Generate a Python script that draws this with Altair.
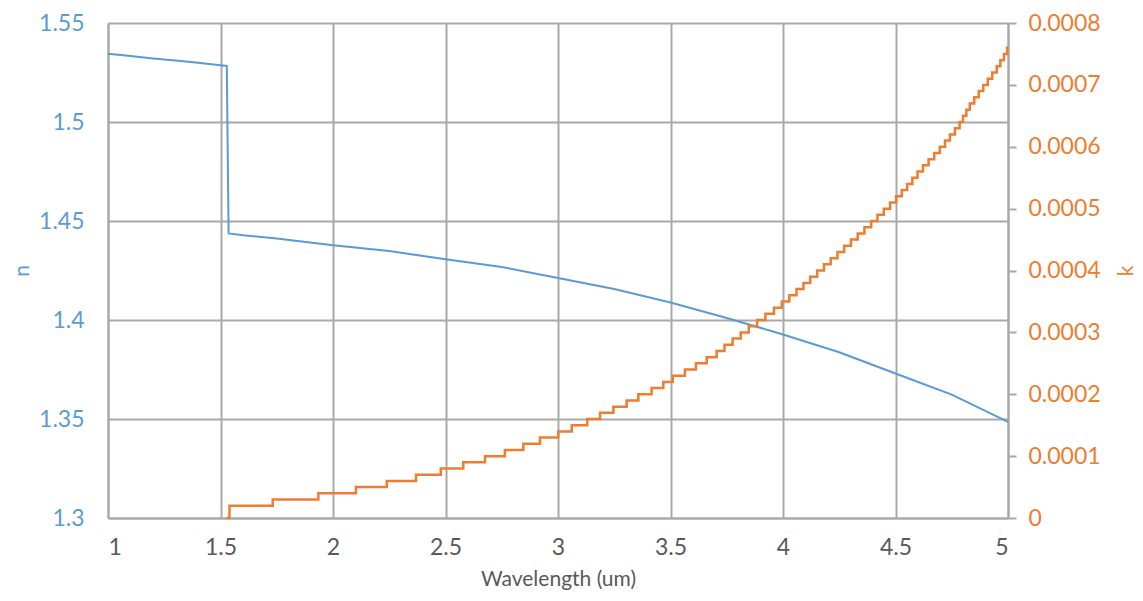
import altair as alt
import pandas as pd

# refractive index n (left axis)
n_wl = [1.0, 1.1, 1.2, 1.3, 1.4, 1.5, 1.528, 1.536, 1.6, 1.75, 2.0, 2.25, 2.5, 2.75,
        3.0, 3.25, 3.5, 3.75, 4.0, 4.25, 4.5, 4.75, 5.0]
n_val = [1.5345, 1.5333, 1.5321, 1.5310, 1.5299, 1.5287, 1.5283, 1.4437, 1.4428, 1.4412,
         1.4378, 1.4348, 1.4307, 1.4268, 1.4212, 1.4157, 1.4088, 1.4010, 1.3927, 1.3837,
         1.3730, 1.3623, 1.3485]

# extinction coefficient k (right axis): wavelength where each level starts
k_wl = [1.527, 1.54, 1.732, 1.935, 2.102, 2.239, 2.369, 2.479, 2.579, 2.676,
        2.764, 2.846, 2.920, 3.001, 3.061, 3.130, 3.187, 3.246, 3.305, 3.357,
        3.416, 3.468, 3.510, 3.564, 3.613, 3.661, 3.705, 3.740, 3.776, 3.812,
        3.848, 3.885, 3.922, 3.960, 3.995, 4.028, 4.060, 4.091, 4.121, 4.152,
        4.182, 4.212, 4.242, 4.272, 4.302, 4.332, 4.362, 4.392, 4.420, 4.448,
        4.476, 4.503, 4.528, 4.552, 4.575, 4.598, 4.622, 4.647, 4.672, 4.697,
        4.720, 4.742, 4.764, 4.785, 4.800, 4.815, 4.830, 4.850, 4.870, 4.890,
        4.910, 4.930, 4.950, 4.966, 4.982, 4.996, 5.0]
k_val = [0, 0.00002, 0.00003, 0.00004, 0.00005, 0.00006, 0.00007, 0.00008, 0.00009, 0.00010,
         0.00011, 0.00012, 0.00013, 0.00014, 0.00015, 0.00016, 0.00017, 0.00018, 0.00019, 0.00020,
         0.00021, 0.00022, 0.00023, 0.00024, 0.00025, 0.00026, 0.00027, 0.00028, 0.00029, 0.00030,
         0.00031, 0.00032, 0.00033, 0.00034, 0.00035, 0.00036, 0.00037, 0.00038, 0.00039, 0.00040,
         0.00041, 0.00042, 0.00043, 0.00044, 0.00045, 0.00046, 0.00047, 0.00048, 0.00049, 0.00050,
         0.00051, 0.00052, 0.00053, 0.00054, 0.00055, 0.00056, 0.00057, 0.00058, 0.00059, 0.00060,
         0.00061, 0.00062, 0.00063, 0.00064, 0.00065, 0.00066, 0.00067, 0.00068, 0.00069, 0.00070,
         0.00071, 0.00072, 0.00073, 0.00074, 0.00075, 0.00076, 0.00076]

x_ticks = [1, 1.5, 2, 2.5, 3, 3.5, 4, 4.5, 5]
n_ticks = [1.3, 1.35, 1.4, 1.45, 1.5, 1.55]
k_ticks = [0, 0.0001, 0.0002, 0.0003, 0.0004, 0.0005, 0.0006, 0.0007, 0.0008]

BLUE = "#5B9BD5"
ORANGE = "#ED7D31"
GRID = "#A9A9A9"
TEXT = "#595959"
FONT = "Lato"
LFS = 23
TFS = 21
H = 495

df_n = pd.DataFrame({"wl": n_wl, "n": n_val})
df_k = pd.DataFrame({"wl": k_wl, "k": k_val})

x_enc = alt.X(
    "wl:Q",
    scale=alt.Scale(domain=[1, 5], nice=False, zero=False),
    axis=alt.Axis(values=x_ticks, format="~g", title="Wavelength (um)",
                  grid=True, gridColor=GRID, gridWidth=2,
                  domain=True, domainColor=GRID, domainWidth=2,
                  ticks=False, labelPadding=18, labelColor=TEXT,
                  labelFont=FONT, labelFontSize=LFS, titleFont=FONT,
                  titleFontSize=TFS, titleFontWeight="normal", titleColor=TEXT,
                  titlePadding=9),
)

line_n = alt.Chart(df_n).mark_line(color=BLUE, strokeWidth=2).encode(
    x=x_enc,
    y=alt.Y("n:Q",
            scale=alt.Scale(domain=[1.3, 1.55], nice=False, zero=False),
            axis=alt.Axis(orient="left", values=n_ticks, format="~g", title="n",
                          grid=True, gridColor=GRID, gridWidth=2,
                          domain=True, domainColor=GRID, domainWidth=2,
                          ticks=False, labelPadding=24, labelColor=BLUE,
                          labelFont=FONT, labelFontSize=LFS, titleFont=FONT,
                          titleFontSize=TFS, titleFontWeight="normal",
                          titleColor=BLUE, titleX=-86, titleY=H / 2,
                          titleAngle=-90, titleBaseline="middle")),
)

line_k = alt.Chart(df_k).mark_line(color=ORANGE, strokeWidth=2.5,
                                   interpolate="step-after").encode(
    x=alt.X("wl:Q", scale=alt.Scale(domain=[1, 5], nice=False, zero=False)),
    y=alt.Y("k:Q",
            scale=alt.Scale(domain=[0, 0.0008], nice=False, zero=False),
            axis=alt.Axis(orient="right", values=k_ticks, format="~f", title="k",
                          grid=False, domain=True, domainColor=GRID, domainWidth=2,
                          ticks=True, tickColor=GRID, tickWidth=2, tickSize=8,
                          labelPadding=12, labelColor=ORANGE,
                          labelFont=FONT, labelFontSize=LFS, titleFont=FONT,
                          titleFontSize=TFS, titleFontWeight="normal",
                          titleColor=ORANGE, titleAngle=-90, titleX=118,
                          titleY=H / 2, titleBaseline="middle")),
)

chart = alt.layer(line_n, line_k).resolve_scale(y="independent").properties(
    width=900, height=H,
    autosize=alt.AutoSizeParams(type="none"),
    padding={"left": 100, "top": 15, "right": 127, "bottom": 75},
).configure_view(stroke=None)

chart.save("out.html", embed_options={"renderer": "svg", "actions": False})
